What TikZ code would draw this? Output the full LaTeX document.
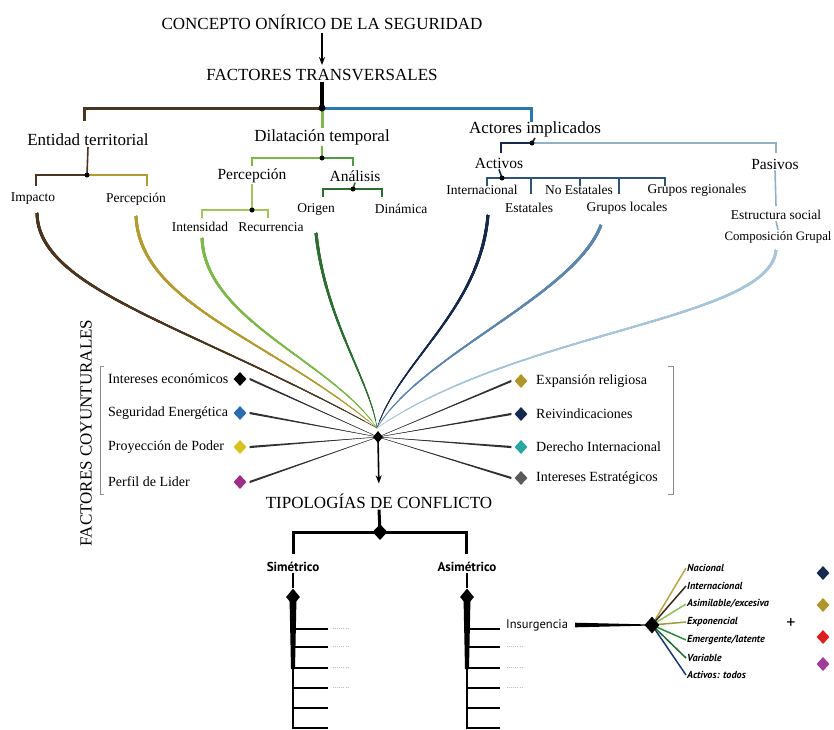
\documentclass[tikz,border=0pt]{standalone}
\usepackage{fontspec}
\setmainfont{Liberation Serif}
\newfontfamily\sansf{PT Sans}
\usetikzlibrary{shapes.geometric,calc,arrows.meta}

\definecolor{tbrown}{HTML}{4A3520}
\definecolor{tgold}{HTML}{B39B32}
\definecolor{tlgreen}{HTML}{7DB84A}
\definecolor{tygreen}{HTML}{A3C45A}
\definecolor{tmgreen}{HTML}{4F9A45}
\definecolor{tdgreen}{HTML}{2B6E2F}
\definecolor{tnavy}{HTML}{15294D}
\definecolor{tsteel}{HTML}{5E86AC}
\definecolor{tslate}{HTML}{2F5275}
\definecolor{tlblue}{HTML}{A7C4D8}
\definecolor{tpale}{HTML}{8FB0C8}
\definecolor{tblue}{HTML}{2878B0}
\definecolor{tgray}{HTML}{8A8A8A}
\definecolor{tdots}{HTML}{707070}
\definecolor{tlink}{HTML}{303030}
\definecolor{genergy}{HTML}{2B6CB0}
\definecolor{gpower}{HTML}{D8C21E}
\definecolor{gleader}{HTML}{9B2F86}
\definecolor{greligion}{HTML}{B0952A}
\definecolor{glaw}{HTML}{2BA5A0}
\definecolor{gstrat}{HTML}{5A5A5A}
\definecolor{gred}{HTML}{DE1E1E}
\definecolor{gviolet}{HTML}{A03C9B}

% curve from a start point into the hub, getting thinner as it descends
\newcommand{\fanline}[4]{%
  \foreach \yy/\ww in {429/0.6,420/0.8,410/1.0,398/1.2,385/1.4,370/1.6,355/1.8,340/2.0,322/2.2,304/2.4,286/2.6,268/2.8,250/3.0}{%
    \begin{scope}
      \clip (0,0) rectangle (834,\yy);
      \draw[#1, line width=\ww pt] (#2) .. controls (#3) and (#4) .. (hubc);
    \end{scope}}}
% tapered straight spoke from a list marker into the hub
\newcommand{\spoke}[1]{%
  \fill[tlink] ($(#1)+(0,-1.1)$) -- (hubd) -- ($(#1)+(0,1.1)$) -- cycle;
  \draw[tlink, line width=0.4pt] (#1) -- (hubd);}

\begin{document}
\begin{tikzpicture}[x=1pt,y=-1pt,
  t17/.style={font=\fontsize{17}{20}\selectfont, inner sep=1pt},
  t155/.style={font=\fontsize{15.5}{18}\selectfont, inner sep=1pt},
  t135/.style={font=\fontsize{13.5}{16}\selectfont, inner sep=1pt},
  item/.style={font=\fontsize{14}{16}\selectfont, inner sep=1pt},
  sansb/.style={font=\sansf\bfseries\fontsize{13}{15}\selectfont, inner sep=1pt},
  sansn/.style={font=\sansf\fontsize{12.5}{15}\selectfont, inner sep=1pt},
  kind/.style={font=\sansf\bfseries\itshape\fontsize{10.2}{12}\selectfont, inner sep=1pt, anchor=west},
  dots/.style={font=\sansf\fontsize{7}{8}\selectfont, text=tdots, inner sep=0pt, anchor=west},
  jdot/.style={circle, fill, inner sep=0pt, minimum size=5pt},
  gem/.style={diamond, fill=#1, inner sep=0pt, minimum width=13pt, minimum height=14pt},
  branch/.style={line width=1.6pt},
  tick/.style={line width=2pt}]

\useasboundingbox (0,0) rectangle (834,729);
\fill[white] (0,0) rectangle (834,729);

% ---------- head ----------
\node[t17] (title) at (322,22) {CONCEPTO ONÍRICO DE LA SEGURIDAD};
\node[t17] (ft) at (322,75) {FACTORES TRANSVERSALES};
\draw[-{Stealth[length=8pt,width=6pt]}, line width=1.3pt, shorten <=2pt, shorten >=3pt] (title.south) -- (ft.north);

\coordinate (j0) at (322,108);
\node[t17] (et) at (88,140) {Entidad territorial};
\node[t17] (dt) at (322,137) {Dilatación temporal};
\node[t17] (ai) at (535,129) {Actores implicados};
\coordinate (etTop) at (84,121);
\coordinate (aiTop) at (531,122);
\draw[line width=4pt] (ft.south) -- (j0);
\draw[tbrown, line width=3pt] (j0) -| (etTop);
\draw[tblue, line width=3pt] (j0) -| (aiTop);
\draw[tlgreen, line width=3pt] (j0) -- (dt.north);
\node[jdot, minimum size=7pt] at (j0) {};

% ---------- Entidad territorial ----------
\coordinate (j1) at (87,175);
\node[t135] (imp) at (33,199) {Impacto};
\node[t135] (per1) at (136,199) {Percepción};
\coordinate (impTop) at (36,186);
\coordinate (per1Top) at (147,186);
\draw[tbrown, branch] (et.south) -- (j1);
\draw[tbrown, branch] (j1) -| (impTop);
\draw[tgold, branch] (j1) -| (per1Top);
\node[jdot] at (j1) {};

% ---------- Dilatación temporal ----------
\coordinate (j2) at (322,158);
\node[t155] (per2) at (252,176) {Percepción};
\node[t155] (ana) at (355,176) {Análisis};
\coordinate (per2Top) at (252,166);
\coordinate (anaTop) at (353,166);
\draw[tlgreen, branch] (dt.south) -- (j2);
\draw[tlgreen, branch] (j2) -| (per2Top);
\draw[tmgreen, branch] (j2) -| (anaTop);
\node[jdot] at (j2) {};

\coordinate (j3) at (252,210);
\node[t135] (int) at (200,227) {Intensidad};
\node[t135] (rec) at (271,227) {Recurrencia};
\coordinate (intTop) at (202,218);
\coordinate (recTop) at (268,218);
\draw[tygreen, branch] (per2.south) -- (j3);
\draw[tygreen, branch] (j3) -| (intTop);
\draw[tygreen, branch] (j3) -| (recTop);
\node[jdot] at (j3) {};

\coordinate (j4) at (353,189);
\node[t135] (ori) at (316,209) {Origen};
\node[t135] (din) at (401,209) {Dinámica};
\coordinate (oriTop) at (323,197);
\coordinate (dinTop) at (382,197);
\draw[tdgreen, branch] (ana.south) -- (j4);
\draw[tdgreen, branch] (j4) -| (oriTop);
\draw[tdgreen, branch] (j4) -| (dinTop);
\node[jdot] at (j4) {};

% ---------- Actores implicados ----------
\coordinate (j5) at (532,143);
\node[t155] (act) at (499,163) {Activos};
\node[t155] (pas) at (775,164) {Pasivos};
\coordinate (actTop) at (501,153);
\coordinate (pasTop) at (776,153);
\draw[tnavy, branch] (ai.south) -- (j5);
\draw[tnavy, branch] (j5) -| (actTop);
\draw[tpale, branch] (j5) -| (pasTop);
\node[jdot] at (j5) {};

\coordinate (j6) at (502,178);
\node[t135] (intl) at (482,190) {Internacional};
\node[t135] (esta) at (529,208) {Estatales};
\node[t135] (noes) at (579,190) {No Estatales};
\node[t135] (gloc) at (627,208) {Grupos locales};
\node[t135] (greg) at (697,190) {Grupos regionales};
\coordinate (intlTop) at (487,186);
\coordinate (estaTop) at (531,194);
\coordinate (noesTop) at (580,186);
\coordinate (glocTop) at (619,194);
\coordinate (gregTop) at (665,186);
\draw[tnavy, branch] (act.south) -- (j6);
\foreach \t in {intlTop,estaTop,noesTop,glocTop,gregTop}
  \draw[tslate, branch] (j6) -| (\t);
\node[jdot] at (j6) {};

\node[t135] (est) at (776,215) {Estructura social};
\node[t135, font=\fontsize{12.8}{15}\selectfont] (comp) at (778,237) {Composición Grupal};
\draw[tpale, branch] (pas.south) -- ($(est.north)+(0,-3)$);
\draw[tpale, branch] (est.south) -- (comp.north);

% ---------- curves into the hub ----------
\coordinate (hubc) at (377,428);
\coordinate (cImp) at (37,213);
\coordinate (cPer) at (136,216);
\coordinate (cInt) at (202,238);
\coordinate (cOri) at (316,233);
\coordinate (cIntl) at (488,215);
\coordinate (cGloc) at (601,225);
\coordinate (cPas) at (776,250);
\fanline{tbrown}{cImp}{38,290}{190,325}
\fanline{tgold}{cPer}{140,305}{270,338}
\fanline{tlgreen}{cInt}{205,320}{330,360}
\fanline{tdgreen}{cOri}{325,320}{370,380}
\fanline{tnavy}{cIntl}{480,310}{400,360}
\fanline{tsteel}{cGloc}{575,295}{420,355}
\fanline{tlblue}{cPas}{770,320}{520,330}

% ---------- factores coyunturales ----------
\node[t17, rotate=90] (fc) at (86,433) {FACTORES COYUNTURALES};
\draw[tgray, line width=0.8pt] (104,366) -- (100,366) -- (100,494) -- (104,494);
\draw[tgray, line width=0.8pt] (668,366) -- (673,366) -- (673,494) -- (668,494);

\coordinate (hubd) at (378,437);
\node[item, anchor=west] (l1) at (107,379) {Intereses económicos};
\node[item, anchor=west] (l2) at (107,413) {Seguridad Energética};
\node[item, anchor=west] (l3) at (107,447) {Proyección de Poder};
\node[item, anchor=west] (l4) at (107,482) {Perfil de Lider};
\node[gem=black] (g1) at (240,379) {};
\node[gem=genergy] (g2) at (240,413) {};
\node[gem=gpower] (g3) at (240,447) {};
\node[gem=gleader] (g4) at (240,482) {};

\node[gem=greligion] (g5) at (521,381) {};
\node[gem=tnavy] (g6) at (521,414) {};
\node[gem=glaw] (g7) at (521,447) {};
\node[gem=gstrat] (g8) at (521,478) {};
\node[item, anchor=west] (r1) at (535,381) {Expansión religiosa};
\node[item, anchor=west] (r2) at (535,414) {Reivindicaciones};
\node[item, anchor=west] (r3) at (535,447) {Derecho Internacional};
\node[item, anchor=west] (r4) at (535,478) {Intereses Estratégicos};

\foreach \g in {g1,g2,g3,g4}{
  \coordinate (\g s) at ($(\g.east)+(3,0)$);
  \spoke{\g s}
}
\foreach \g in {g5,g6,g7,g8}{
  \coordinate (\g s) at ($(\g.west)+(-3,0)$);
  \spoke{\g s}
}

\node[t17] (tc) at (379,501) {TIPOLOGÍAS DE CONFLICTO};
\draw[-{Stealth[length=8pt,width=6pt]}, line width=1.6pt, shorten >=9pt] (hubd) -- (tc.north);
\node[gem=black, minimum width=10pt, minimum height=12pt] (hub) at (hubd) {};

% ---------- tipologías ----------
\coordinate (bdc) at (380,532);
\node[sansb] (sim) at (293,567) {Simétrico};
\node[sansb] (asi) at (467,567) {Asimétrico};
\coordinate (simTop) at (293,554);
\coordinate (asiTop) at (466,554);
\draw[line width=3pt] (tc.south) -- (bdc);
\draw[line width=3pt] (bdc) -| (simTop);
\draw[line width=3pt] (bdc) -| (asiTop);
\node[gem=black, minimum width=15pt, minimum height=16pt] (bd) at (bdc) {};

\foreach \x/\n in {293/sd,467/ad}{
  \coordinate (\n c) at (\x,597);
  \fill (\x-3.5,597) -- (\x+3.5,597) -- (\x+2,669) -- (\x-2,669) -- cycle;
  \draw[line width=2.5pt] (\x,668) -- (\x,729);
  \node[gem=black, minimum width=14pt, minimum height=17pt] (\n) at (\n c) {};
}
\draw[line width=1.4pt] (sim.south) -- (sd.north);
\draw[line width=1.4pt] (asi.south) -- (ad.north);

\foreach \y in {629,647,668,688,708,728}{
  \draw[tick] (293,\y) -- (328,\y);
  \draw[tick] (467,\y) -- (500,\y);
}
\foreach \y in {629,647,668,688}
  \node[dots] at (333,\y) {......\,..};
\foreach \y in {647,668,688}
  \node[dots] at (507,\y) {......\,..};

\node[sansn, anchor=west] (ins) at (505,625) {Insurgencia};
\coordinate (idc) at (652,625);
\fill ($(ins.east)+(6,-2.3)$) -- (647,624.4) -- (647,625.6) -- ($(ins.east)+(6,2.3)$) -- cycle;

\node[kind] (k1) at (686,568) {Nacional};
\node[kind] (k2) at (686,586) {Internacional};
\node[kind] (k3) at (686,604) {Asimilable/excesiva};
\node[kind] (k4) at (686,622) {Exponencial};
\node[kind] (k5) at (686,640) {Emergente/latente};
\node[kind] (k6) at (686,658) {Variable};
\node[kind] (k7) at (686,675) {Activos: todos};
\foreach \k/\c in {k1/B9A44C,k2/3B2A1A,k3/8DC05A,k4/9C9C3E,k5/2E8B3E,k6/1F6B30,k7/1B3A6B}{
  \definecolor{kc}{HTML}{\c}
  \draw[kc, line width=1.5pt] (idc) -- (\k.west);
}
\node[gem=black, minimum width=15pt, minimum height=17pt] (id) at (idc) {};

\node[font=\sansf\fontsize{18}{18}\selectfont, inner sep=0pt] (plus) at (791,623) {+};
\node[gem=tnavy] (e1) at (823,573) {};
\node[gem=greligion] (e2) at (823,605) {};
\node[gem=gred] (e3) at (823,637) {};
\node[gem=gviolet] (e4) at (823,664) {};

\end{tikzpicture}
\end{document}
